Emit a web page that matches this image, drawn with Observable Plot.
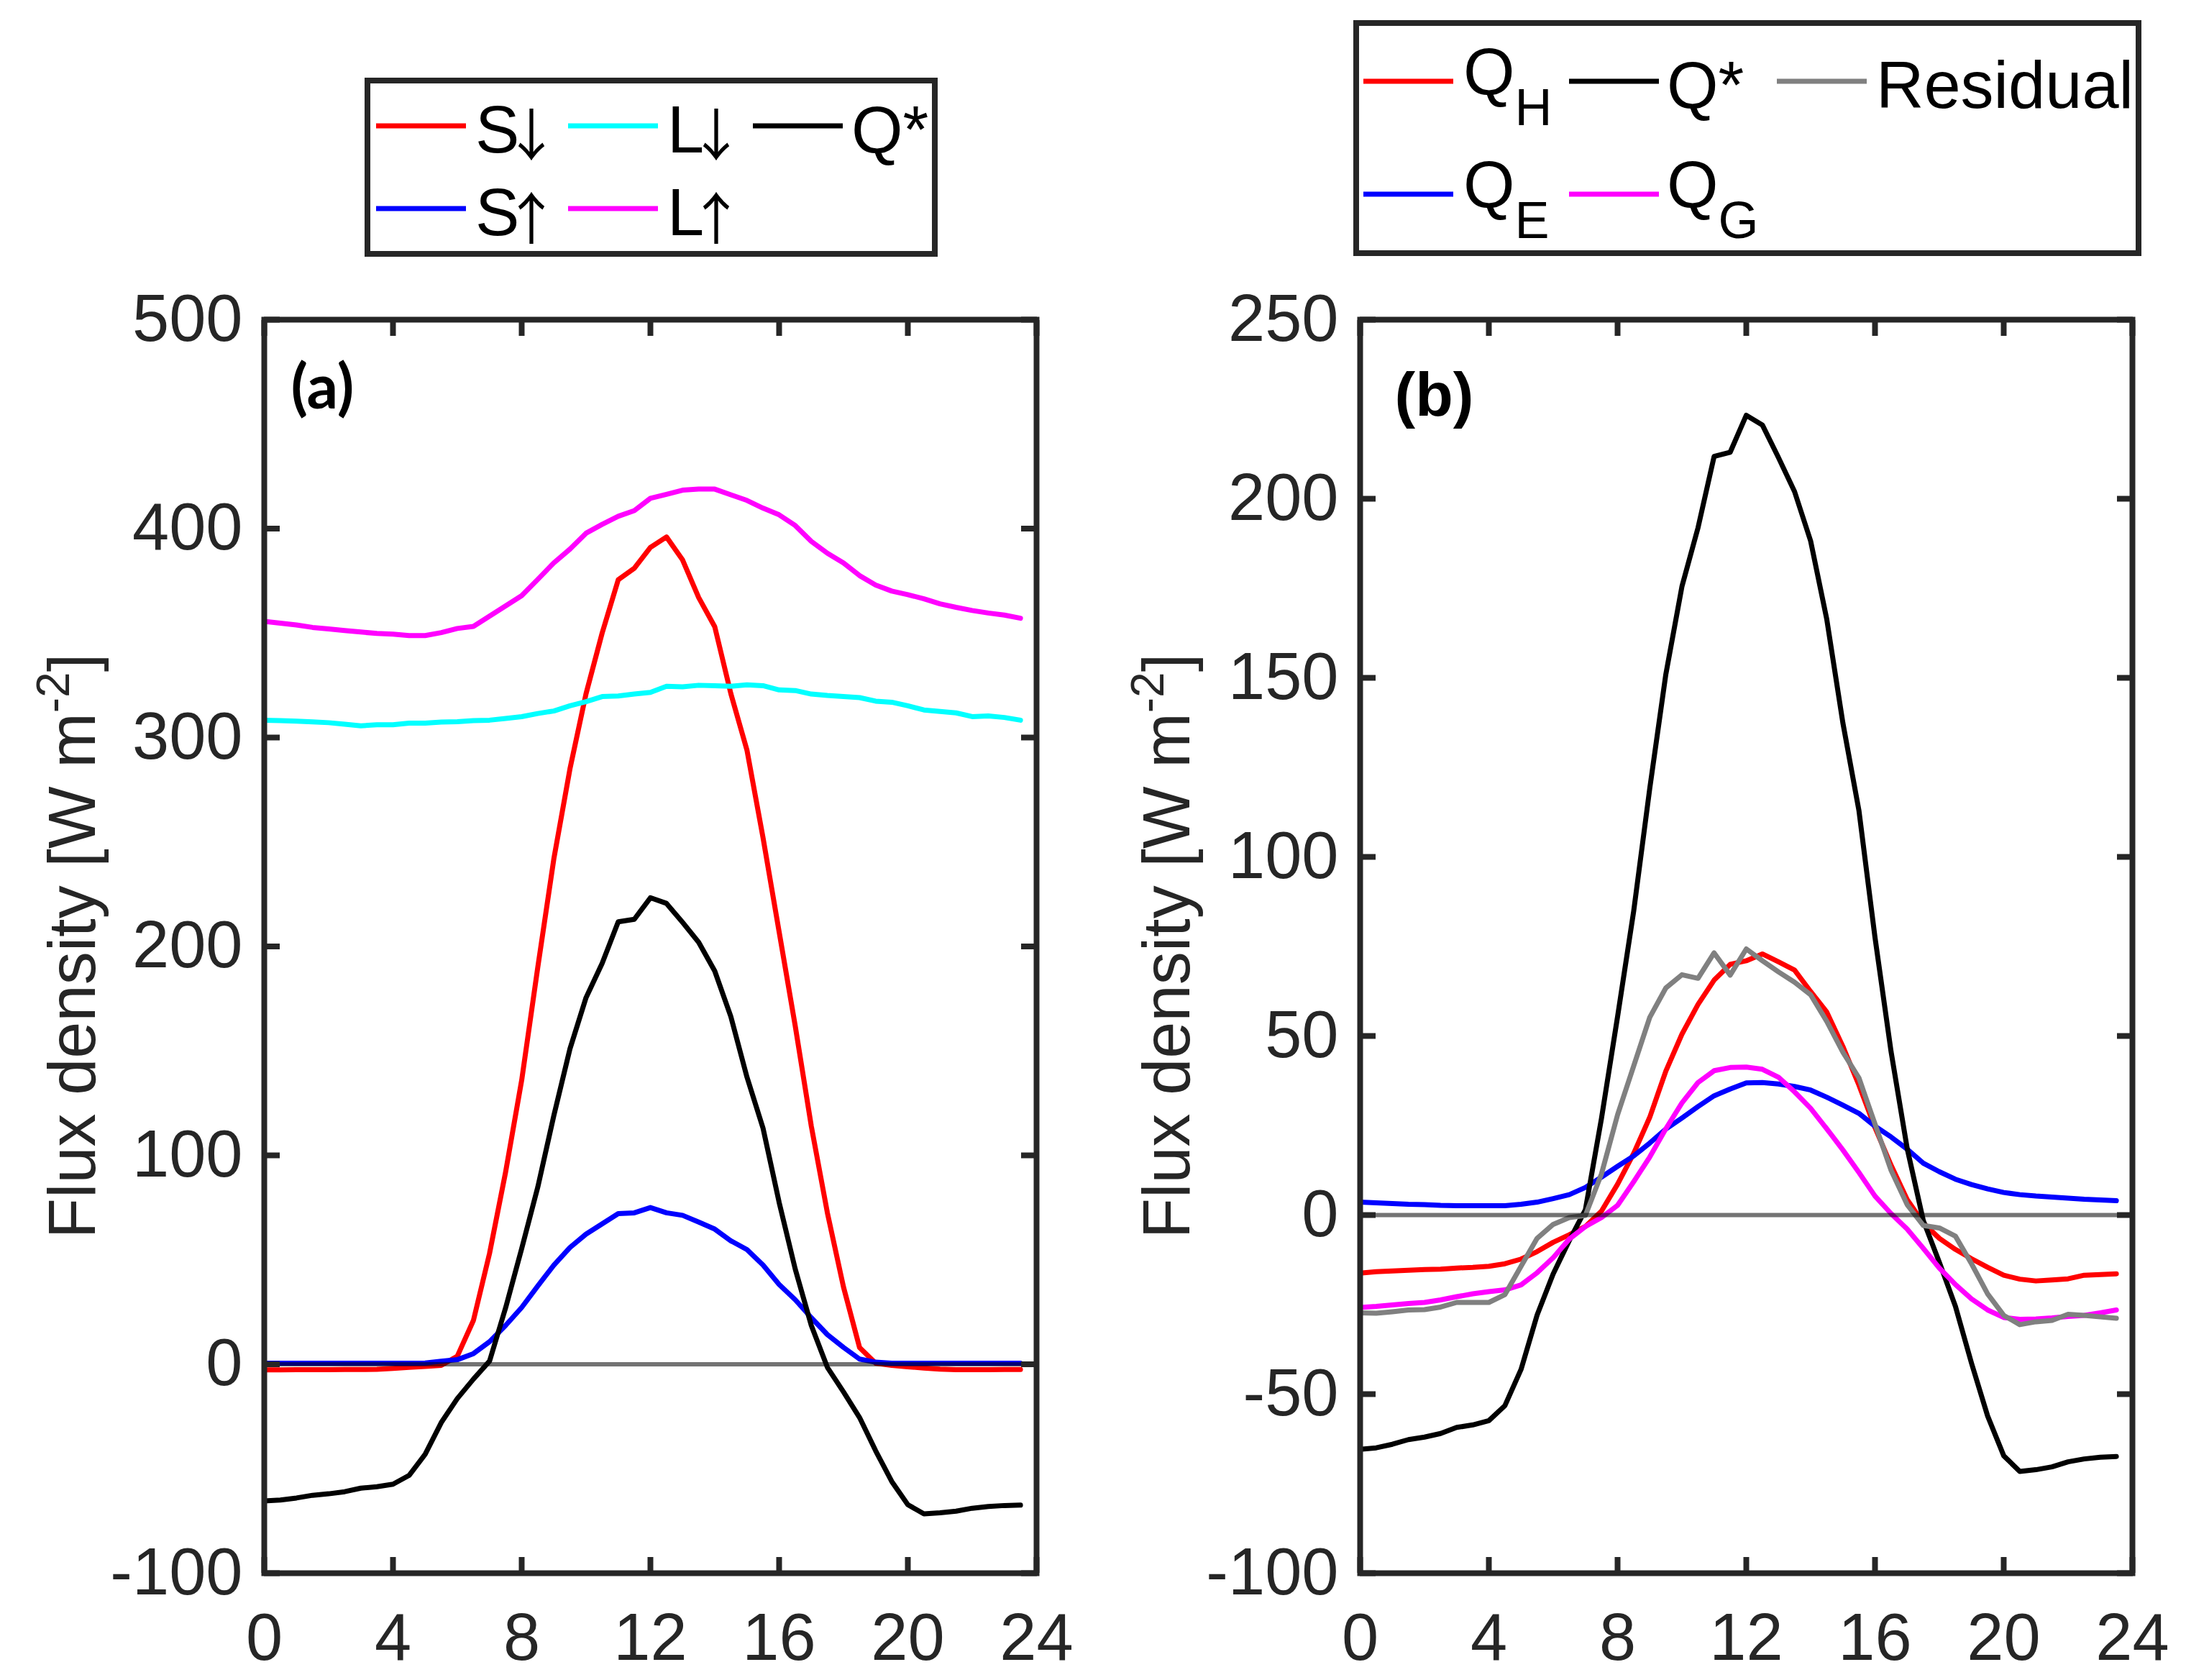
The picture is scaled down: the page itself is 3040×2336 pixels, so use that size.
<!DOCTYPE html>
<html>
<head>
<meta charset="utf-8">
<script src="https://cdn.jsdelivr.net/npm/d3@7"></script>
<script src="https://cdn.jsdelivr.net/npm/@observablehq/plot@0.6"></script>
<style>
  html, body { margin: 0; padding: 0; background: #ffffff; }
  #page { position: relative; width: 3040px; height: 2336px; background: #ffffff; overflow: hidden; }
  #page > svg { position: absolute; }
</style>
</head>
<body>
<div id="page"></div>
<script>
// ---------- data (half-hourly, local time) ----------
const hours = [0,0.5,1,1.5,2,2.5,3,3.5,4,4.5,5,5.5,6,6.5,7,7.5,8,8.5,9,9.5,10,10.5,11,11.5,
               12,12.5,13,13.5,14,14.5,15,15.5,16,16.5,17,17.5,18,18.5,19,19.5,20,20.5,21,21.5,22,22.5,23,23.5];
const xTicks = [0,4,8,12,16,20,24];
const yTicksA = [-100,0,100,200,300,400,500];
const yTicksB = [-100,-50,0,50,100,150,200,250];

// Panel (a): radiation components [W m-2]
const sDown = [-2.7,-2.7,-2.6,-2.6,-2.6,-2.5,-2.5,-2.4,-2.0,-1.5,-1.0,-0.5,3.9,21,53,92,136,190,242,285,321,350,375.5,381,
               391,396,385,367,353,321,294,252,207,162,114,72.5,37,8,0.5,-0.5,-1.2,-1.8,-2.3,-2.6,-2.6,-2.6,-2.5,-2.5];
const sUp = [0.5,0.5,0.5,0.5,0.5,0.5,0.5,0.5,0.5,0.5,0.6,1.5,2.2,5.1,10.8,18.6,27.2,37.5,47.5,55.9,62.3,67.2,72.1,72.5,
             75,72.5,71.3,68.1,64.7,59.1,54.9,47.5,38.2,30.9,22.3,14.2,8.1,2.5,1.0,0.5,0.5,0.5,0.5,0.5,0.5,0.5,0.5,0.5];
const lDown = [308.3,308.1,307.8,307.5,307.1,306.4,305.6,306.1,306.1,306.9,306.9,307.4,307.6,308.1,308.3,309.1,310.0,311.5,312.7,315.2,317.2,319.6,319.9,320.8,
               321.6,324.5,324.3,325.0,324.8,324.5,325.2,324.8,322.8,322.5,320.8,320.1,319.6,319.1,317.4,316.9,315.2,313.2,312.5,311.8,310.0,310.3,309.6,308.3];
const lUp = [355.6,354.7,353.9,352.7,352.0,351.2,350.5,349.8,349.5,348.8,348.8,350.2,352.2,353.2,358.1,363.0,367.9,375.7,383.6,390.2,397.8,402.0,405.9,408.6,
             414.5,416.4,418.4,418.9,418.9,416.2,413.5,409.8,406.6,401.5,393.9,388.2,383.6,377.5,373.0,370.1,368.4,366.4,364.0,362.3,360.8,359.6,358.6,357.1];
const qStar = [-65.4,-65.0,-64.0,-62.7,-62.0,-61.0,-59.3,-58.6,-57.4,-53.2,-43.1,-27.9,-16.4,-7.1,1.5,27,55.4,84.8,119.1,151.0,175.5,191.9,211.8,213.0,
               223.3,220.6,211.5,202.0,188.2,166.4,137.5,113.0,77.5,45.6,18.6,-1.5,-13.2,-25.5,-41.4,-56.1,-67.2,-71.6,-71.1,-70.3,-68.9,-68.1,-67.6,-67.4];

// Panel (b): energy balance components [W m-2]
const qH = [-16.2,-15.8,-15.6,-15.4,-15.2,-15.1,-14.8,-14.6,-14.3,-13.6,-12.3,-10.2,-7.6,-5.5,-3.2,1.1,8.6,17.2,27.3,40.2,50.5,58.8,65.6,70.0,
            71.0,72.9,70.7,68.4,62.4,56.7,47.1,36.3,24.4,13.9,4.3,-2.2,-6.5,-9.6,-12.2,-14.6,-16.8,-17.9,-18.4,-18.1,-17.8,-16.8,-16.6,-16.4];
const qE = [3.6,3.4,3.2,3.0,2.9,2.7,2.6,2.6,2.6,2.6,3.0,3.6,4.6,5.7,7.7,10.6,13.6,16.5,20.1,24.0,27.1,30.3,33.3,35.2,
            36.9,37.0,36.6,35.9,34.9,32.9,30.7,28.4,24.8,21.8,18.4,14.5,12.1,10.0,8.5,7.3,6.3,5.7,5.3,5.0,4.7,4.4,4.2,4.0];
const qG = [-25.8,-25.5,-25.1,-24.7,-24.4,-23.7,-22.8,-22.0,-21.4,-20.9,-19.5,-16.1,-11.9,-6.7,-3.2,-0.7,2.7,9.3,16.2,24.1,31.3,37.0,40.3,41.2,
            41.3,40.7,38.5,34.4,29.8,24.1,18.2,11.9,5.3,0.4,-3.9,-9.3,-14.8,-19.4,-23.4,-26.5,-28.6,-29.1,-29.0,-28.7,-28.3,-28.0,-27.3,-26.5];
const residual = [-27.3,-27.4,-27.0,-26.5,-26.4,-25.7,-24.4,-24.4,-24.4,-22.2,-14.3,-6.5,-2.6,-0.7,-0.1,11.5,28.0,41.6,55.2,63.4,67.1,66.1,73.2,67.0,
                  74.3,71.0,67.9,65.0,61.5,54.1,45.5,38.3,25.4,12.5,2.9,-2.9,-3.6,-5.9,-13.6,-22.0,-28.0,-30.6,-29.8,-29.4,-27.7,-28.0,-28.4,-28.8];

// series names / colours
const namesA  = ["S↓", "S↑", "L↓", "L↑", "Q*"];
const colorsA = ["#ff0000", "#0000ff", "#00ffff", "#ff00ff", "#000000"];
const valuesA = [sDown, sUp, lDown, lUp, qStar];
const namesB  = ["Q_H", "Q_E", "Q*", "Q_G", "Residual"];
const colorsB = ["#ff0000", "#0000ff", "#000000", "#ff00ff", "#808080"];
const valuesB = [qH, qE, qStar, qG, residual];

// ---------- styling / layout ----------
const INK = "#262626";
const FONT = "'Liberation Sans', Arial, Helvetica, sans-serif";
const ARROW_FONT = "'Noto Sans CJK SC', 'DejaVu Sans', sans-serif";
const page = document.getElementById("page");
const SVG_TOP = 380, SVG_H = 1956;

function makePanel(opts) {
  const {values, colors, yDomain, yTicks, left, width, marginLeft, marginRight,
         label, labelFont, labelDx, labelDy, yLabelX} = opts;
  const tables = values.map(v => hours.map((h, i) => ({h, v: v[i]})));
  const svg = Plot.plot({
    width, height: SVG_H,
    marginLeft, marginRight, marginTop: 64, marginBottom: 149,
    style: {fontFamily: FONT, fontSize: "92px", color: INK, background: "none", overflow: "visible"},
    x: {domain: [0, 24]},
    y: {domain: yDomain},
    marks: [
      ...tables.map((t, k) => Plot.line(t, {x: "h", y: "v", stroke: colors[k], strokeWidth: 7})),
      Plot.ruleY([0], {stroke: "#000", strokeOpacity: 0.55, strokeWidth: 6}),
      Plot.axisX(xTicks, {anchor: "bottom", tickSize: 0, tickPadding: 55, label: null,
                          tickFormat: d => String(d), fill: INK, fontSize: 92}),
      Plot.axisX(xTicks, {anchor: "bottom", tickSize: -22, fill: null, label: null, stroke: INK, strokeWidth: 8}),
      Plot.axisX(xTicks, {anchor: "top", tickSize: -22, fill: null, label: null, stroke: INK, strokeWidth: 8}),
      Plot.axisY(yTicks, {anchor: "left", tickSize: 0, tickPadding: 30, label: null,
                          tickFormat: d => String(d), fill: INK, fontSize: 92}),
      Plot.axisY(yTicks, {anchor: "left", tickSize: -22, fill: null, label: null, stroke: INK, strokeWidth: 8}),
      Plot.axisY(yTicks, {anchor: "right", tickSize: -22, fill: null, label: null, stroke: INK, strokeWidth: 8}),
      Plot.frame({stroke: INK, strokeWidth: 8}),
      Plot.text([label], {text: d => d, frameAnchor: "top-left", textAnchor: "start", lineAnchor: "top",
                          dx: labelDx, dy: labelDy, fontFamily: labelFont, fontWeight: "bold",
                          fontSize: 86, fill: "#000"})
    ]
  });
  svg.style.left = left + "px";
  svg.style.top = SVG_TOP + "px";
  // y-axis title with superscript
  const frameMid = 64 + (SVG_H - 64 - 149) / 2;
  const t = d3.select(svg).append("text")
    .attr("transform", `translate(${yLabelX},${frameMid}) rotate(-90)`)
    .attr("text-anchor", "middle")
    .attr("font-family", FONT).attr("font-size", 92).attr("fill", INK);
  t.append("tspan").text("Flux density [W m");
  t.append("tspan").attr("font-size", 64).attr("dy", -36).text("-2");
  t.append("tspan").attr("dy", 36).text("]");
  page.appendChild(svg);
}

makePanel({values: valuesA, colors: colorsA, yDomain: [-100, 500], yTicks: yTicksA,
           left: 0, width: 1500, marginLeft: 367, marginRight: 59,
           label: "(a)", labelFont: "Lato, 'Open Sans', sans-serif", labelDx: 37, labelDy: 62, yLabelX: 132});
makePanel({values: valuesB, colors: colorsB, yDomain: [-100, 250], yTicks: yTicksB,
           left: 1520, width: 1520, marginLeft: 371, marginRight: 75,
           label: "(b)", labelFont: FONT, labelDx: 48, labelDy: 72, yLabelX: 134});

// ---------- legends ----------
const leg = d3.create("svg").attr("width", 3040).attr("height", SVG_TOP)
  .style("left", "0px").style("top", "0px")
  .attr("font-family", FONT).attr("font-size", 92);
page.appendChild(leg.node());

const ctx = document.createElement("canvas").getContext("2d");
function measure(str, font) { ctx.font = font; return ctx.measureText(str); }

function drawLegend(cfg) {
  const {box, names, colors, cells, sampleX, textX, rowY} = cfg;
  leg.append("rect").attr("x", box[0]).attr("y", box[1]).attr("width", box[2]).attr("height", box[3])
    .attr("fill", "#fff").attr("stroke", INK).attr("stroke-width", 8);
  names.forEach((name, k) => {
    const [c, r] = cells[k];
    const y = rowY[r];
    leg.append("line").attr("x1", sampleX[c]).attr("x2", sampleX[c] + 125)
      .attr("y1", y).attr("y2", y).attr("stroke", colors[k]).attr("stroke-width", 7);
    const parts = name.split("_");
    const last = name.slice(-1);
    if (parts.length === 2) {
      const txt = leg.append("text").attr("x", textX[c]).attr("y", y + 18).attr("fill", "#000");
      txt.append("tspan").text(parts[0]);
      txt.append("tspan").attr("font-size", 72).attr("dy", 43).text(parts[1]);
    } else if (last === "↓" || last === "↑") {
      // thin vertical arrow right after the letter, centred about 24 px above the baseline
      const main = name.slice(0, -1);
      const base = y + 37;
      const fa = 78;
      const m = measure(last, `100px ${ARROW_FONT}`);
      const a = m.actualBoundingBoxAscent / 100, d = m.actualBoundingBoxDescent / 100;
      const bearing = -m.actualBoundingBoxLeft / 100 * fa;   // ink start right of the pen
      const h = a + d > 0.2 ? a + d : 0.8;
      const inkH = h * fa;
      const inkTop = base - 24 - inkH / 2;
      const dy = inkTop + a * fa - base;
      const ls = Math.min(0, -2 - bearing);                 // pull the arrow ink next to the letter
      const txt = leg.append("text").attr("x", textX[c]).attr("y", base).attr("fill", "#000");
      txt.append("tspan").style("letter-spacing", ls.toFixed(1) + "px").text(main);
      txt.append("tspan").attr("font-family", ARROW_FONT).attr("font-size", fa)
        .attr("dy", dy.toFixed(1)).text(last);
    } else {
      leg.append("text").attr("x", textX[c]).attr("y", y + 37).attr("fill", "#000").text(name);
    }
  });
}

const cells = [[0,0],[0,1],[1,0],[1,1],[2,0]];
drawLegend({box: [511, 112, 789, 241], names: namesA, colors: colorsA, cells,
            sampleX: [523, 790, 1047], textX: [661, 928, 1184], rowY: [175, 290]});
drawLegend({box: [1886, 32, 1088, 320], names: namesB, colors: colorsB, cells,
            sampleX: [1896, 2182, 2471], textX: [2035, 2318, 2609], rowY: [113, 270]});
</script>
</body>
</html>
